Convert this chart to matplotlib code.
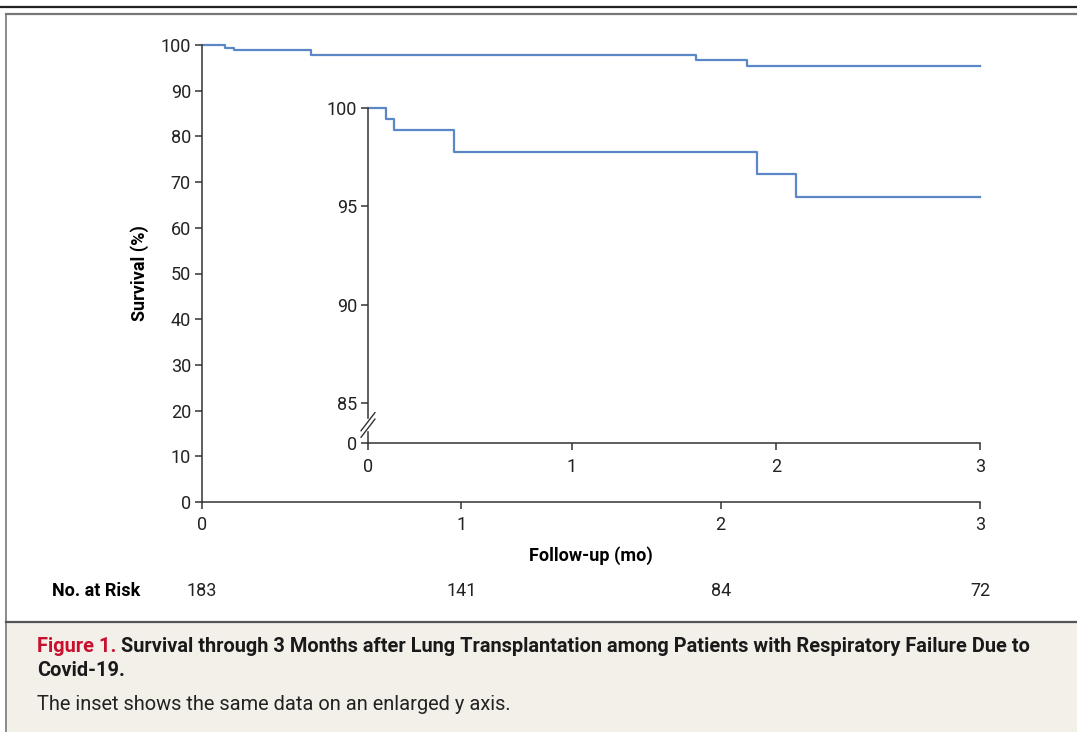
import matplotlib.pyplot as plt
from matplotlib.lines import Line2D
from matplotlib.patches import Rectangle

# Kaplan-Meier steps
times = [0, 0.09, 0.125, 0.42, 1.905, 2.10, 3.0]
survival = [100, 99.45, 98.9, 97.75, 96.65, 95.45, 95.45]

risk_months = [0, 1, 2, 3]
at_risk = [183, 141, 84, 72]

main_yticks = [0, 10, 20, 30, 40, 50, 60, 70, 80, 90, 100]
inset_yticks = [85, 90, 95, 100]

blue = '#5b87c6'
axcol = '#333333'
fs = 13
plt.rcParams['font.family'] = ['Roboto', 'DejaVu Sans']

W, H = 1077, 732
fig = plt.figure(figsize=(W / 100, H / 100), dpi=100)


def box(l, t, r, b):
    # pixel box -> figure fraction
    return [l / W, 1 - b / H, (r - l) / W, (b - t) / H]


# frame decoration: rules on top, left line, caption panel
fig.add_artist(Line2D([0, 1], [1 - 7 / H, 1 - 7 / H], color='#222222', lw=1.6))
fig.add_artist(Line2D([6 / W, 1], [1 - 14 / H, 1 - 14 / H], color='#777777', lw=1.6))
fig.add_artist(Line2D([6 / W, 6 / W], [0, 1 - 14 / H], color='#777777', lw=1.2))
fig.add_artist(Rectangle((6.5 / W, 0), 1, 1 - 623 / H, color='#f3f0ea', lw=0, zorder=0))
fig.add_artist(Line2D([6 / W, 1], [1 - 622 / H, 1 - 622 / H], color='#555555', lw=1.6))

# main axes
ax = fig.add_axes(box(202, 45, 980, 502))
ax.step(times, survival, where='post', color=blue, lw=1.6, clip_on=False)
ax.set_xlim(0, 3)
ax.set_ylim(0, 100)
ax.set_xticks([0, 1, 2, 3])
ax.set_yticks(main_yticks)
for s in ['top', 'right']:
    ax.spines[s].set_visible(False)
for s in ['left', 'bottom']:
    ax.spines[s].set_color(axcol)
    ax.spines[s].set_linewidth(1.1)
ax.tick_params(colors=axcol, labelcolor='#222222', labelsize=fs, length=5, width=1.1, pad=3)
ax.tick_params(axis='x', pad=5)
ax.set_ylabel('Survival (%)', fontsize=fs, fontweight='bold', labelpad=8)
ax.set_xlabel('Follow-up (mo)', fontsize=fs, fontweight='bold', labelpad=9)
ax.patch.set_alpha(0)

# number at risk row
fig.text(52 / W, 1 - 591 / H, 'No. at Risk', fontsize=fs, fontweight='bold', va='center')
for m, n in zip(risk_months, at_risk):
    ax.text(m, 1 - (591 - 45) / (502 - 45), str(n), transform=ax.get_xaxis_transform(),
            ha='center', va='center', fontsize=fs, color='#222222')

# inset with broken y axis
ybot = 85 - 40 / 19.67
ax2 = fig.add_axes(box(368, 108, 980, 443))
ax2.step(times, survival, where='post', color=blue, lw=1.6, clip_on=False)
ax2.set_xlim(0, 3)
ax2.set_ylim(ybot, 100)
ax2.set_xticks([0, 1, 2, 3])
ax2.set_yticks([ybot] + inset_yticks)
ax2.set_yticklabels(['0'] + [str(t) for t in inset_yticks])
for s in ['top', 'right']:
    ax2.spines[s].set_visible(False)
for s in ['left', 'bottom']:
    ax2.spines[s].set_color(axcol)
    ax2.spines[s].set_linewidth(1.1)
ax2.spines['left'].set_bounds(84.25, 100)
ax2.plot([0, 0], [ybot, 83.55], color=axcol, lw=1.1, clip_on=False)
for yb in [83.72, 84.05]:
    ax2.plot([-0.034, 0.034], [yb - 0.46, yb + 0.46], color=axcol, lw=1.0, clip_on=False)
ax2.tick_params(colors=axcol, labelcolor='#222222', labelsize=fs, length=5, width=1.1, pad=3)
ax2.tick_params(axis='x', pad=6)
ax2.patch.set_alpha(0)

# caption, sized so the first line spans the same width as the reference
line1 = 'Survival through 3 Months after Lung Transplantation among Patients with Respiratory Failure Due to'
cap = 13.5
t_fig = fig.text(37 / W, 1 - 646 / H, 'Figure 1. ', color='#c8102e', fontsize=cap,
                 fontweight='bold', va='center')
t_rest = fig.text(0, 1 - 646 / H, line1, fontsize=cap, fontweight='bold', va='center', color='#1a1a1a')
r = fig.canvas.get_renderer()
w_all = t_fig.get_window_extent(r).width + t_rest.get_window_extent(r).width
cap = cap * (1028 - 37) / w_all
t_fig.set_fontsize(cap)
t_rest.set_fontsize(cap)
x_rest = 37 + t_fig.get_window_extent(r).width
t_rest.set_x(x_rest / W)
fig.text(37 / W, 1 - 670 / H, 'Covid-19.', fontsize=cap, fontweight='bold', va='center', color='#1a1a1a')
fig.text(37 / W, 1 - 704 / H, 'The inset shows the same data on an enlarged y axis.',
         fontsize=cap, va='center', color='#222222')

fig.savefig('out.png', dpi=100)
